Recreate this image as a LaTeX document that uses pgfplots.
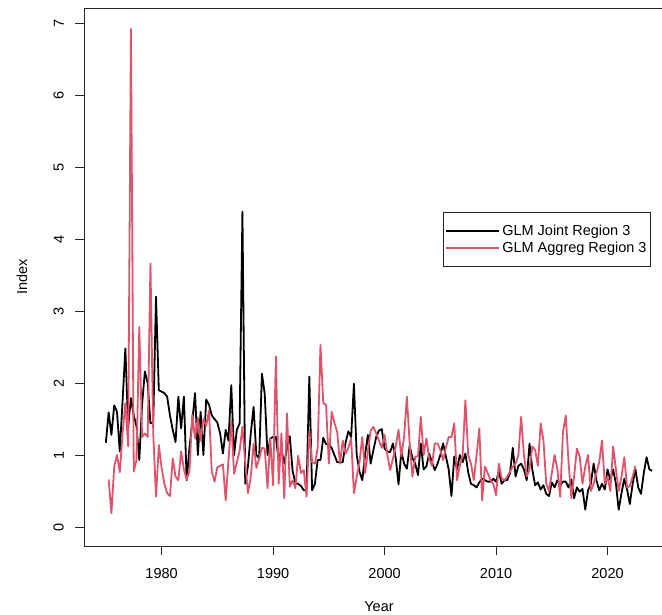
\documentclass[border=0pt]{standalone}
\usepackage{pgfplots}
\pgfplotsset{compat=1.18}
\usepackage{fontspec}
\setmainfont{Liberation Sans}
\definecolor{rred}{HTML}{DF536B}
\newcommand{\rf}{\fontsize{14.5}{17}\selectfont}
\begin{document}
\begin{tikzpicture}
\useasboundingbox (0pt,0pt) rectangle (662pt,615pt);
\begin{axis}[
  at={(84pt,69pt)}, anchor=south west,
  scale only axis, width=590pt, height=538pt,
  xmin=1973.04, xmax=2025.96, ymin=-0.264, ymax=7.21,
  xtick={1980,1990,2000,2010,2020}, ytick={0,1,2,3,4,5,6,7},
  xtick pos=bottom, ytick pos=left,
  tick align=outside, major tick length=9pt,
  axis line style={black!85, line width=0.9pt},
  every tick/.style={black!85, line width=0.9pt},
  /pgf/number format/assume math mode=true,
  /pgf/number format/1000 sep={},
  tick label style={font=\rf, inner sep=0pt},
  yticklabel style={rotate=90, anchor=south},
  xticklabel style={anchor=north},
  xticklabel shift=13pt, yticklabel shift=11pt,
  xlabel={Year}, ylabel={Index},
  label style={font=\rf, inner sep=0pt},
  xlabel style={at={(axis description cs:0.5,-0.1215)}, anchor=base},
  ylabel style={at={(axis description cs:-0.0966,0.5)}, anchor=base},
  legend style={at={(axis description cs:0.6085,0.6208)}, anchor=north west,
    draw=black!85, line width=0.9pt, inner xsep=2pt, inner ysep=10.5pt,
    row sep=1pt, font=\rf, cells={anchor=west}},
  legend image code/.code={\draw[#1] (11pt,0pt) -- (38pt,0pt); \path (0pt,0pt) -- (53pt,0pt);},
]
\addplot[black, line width=1.8pt, line join=round] coordinates {
(1975,1.17)(1975.25,1.59)(1975.5,1.28)(1975.75,1.69)
(1976,1.60)(1976.25,1.05)(1976.5,1.75)(1976.75,2.48)
(1977,1.39)(1977.25,1.79)(1977.5,1.55)(1977.75,1.40)
(1978,0.93)(1978.25,1.70)(1978.5,2.16)(1978.75,2.00)
(1979,1.44)(1979.25,1.45)(1979.5,3.20)(1979.75,1.90)
(1980,1.88)(1980.25,1.86)(1980.5,1.81)(1980.75,1.55)
(1981,1.35)(1981.25,1.18)(1981.5,1.81)(1981.75,1.37)
(1982,1.81)(1982.25,0.65)(1982.5,1.10)(1982.75,1.46)
(1983,1.86)(1983.25,1.00)(1983.5,1.60)(1983.75,1.00)
(1984,1.77)(1984.25,1.70)(1984.5,1.55)(1984.75,1.50)
(1985,1.45)(1985.25,1.30)(1985.5,1.02)(1985.75,1.35)
(1986,1.20)(1986.25,1.97)(1986.5,1.00)(1986.75,1.35)
(1987,1.44)(1987.25,4.38)(1987.5,0.60)(1987.75,0.85)
(1988,1.30)(1988.25,1.67)(1988.5,1.00)(1988.75,0.95)
(1989,2.13)(1989.25,1.85)(1989.5,1.00)(1989.75,1.23)
(1990,1.25)(1990.25,1.25)(1990.5,0.93)(1990.75,1.07)
(1991,0.88)(1991.25,1.10)(1991.5,1.26)(1991.75,0.78)
(1992,0.61)(1992.25,0.60)(1992.5,0.57)(1992.75,0.51)
(1993,0.51)(1993.25,2.09)(1993.5,0.51)(1993.75,0.60)
(1994,0.93)(1994.25,0.93)(1994.5,1.24)(1994.75,1.15)
(1995,1.15)(1995.25,1.10)(1995.5,1.00)(1995.75,0.90)
(1996,0.90)(1996.25,0.90)(1996.5,1.17)(1996.75,1.33)
(1997,1.25)(1997.25,1.99)(1997.5,1.00)(1997.75,0.77)
(1998,0.65)(1998.25,1.00)(1998.5,1.28)(1998.75,0.88)
(1999,1.07)(1999.25,1.25)(1999.5,1.34)(1999.75,1.36)
(2000,1.09)(2000.25,1.05)(2000.5,1.04)(2000.75,1.16)
(2001,0.96)(2001.25,0.59)(2001.5,1.05)(2001.75,0.88)
(2002,0.81)(2002.25,1.13)(2002.5,0.96)(2002.75,0.88)
(2003,0.72)(2003.25,1.16)(2003.5,0.80)(2003.75,0.84)
(2004,1.02)(2004.25,0.90)(2004.5,0.79)(2004.75,0.88)
(2005,1.00)(2005.25,1.16)(2005.5,0.98)(2005.75,0.80)
(2006,0.43)(2006.25,0.98)(2006.5,0.80)(2006.75,1.00)
(2007,0.90)(2007.25,1.02)(2007.5,0.76)(2007.75,0.60)
(2008,0.58)(2008.25,0.55)(2008.5,0.62)(2008.75,0.67)
(2009,0.65)(2009.25,0.63)(2009.5,0.63)(2009.75,0.67)
(2010,0.63)(2010.25,0.77)(2010.5,0.60)(2010.75,0.65)
(2011,0.65)(2011.25,0.75)(2011.5,1.10)(2011.75,0.70)
(2012,0.85)(2012.25,0.88)(2012.5,0.80)(2012.75,0.65)
(2013,1.16)(2013.25,0.80)(2013.5,0.58)(2013.75,0.62)
(2014,0.52)(2014.25,0.58)(2014.5,0.46)(2014.75,0.43)
(2015,0.62)(2015.25,0.55)(2015.5,0.65)(2015.75,0.58)
(2016,0.63)(2016.25,0.63)(2016.5,0.55)(2016.75,0.66)
(2017,0.40)(2017.25,0.55)(2017.5,0.49)(2017.75,0.53)
(2018,0.24)(2018.25,0.51)(2018.5,0.60)(2018.75,0.88)
(2019,0.65)(2019.25,0.51)(2019.5,0.60)(2019.75,0.52)
(2020,0.80)(2020.25,0.65)(2020.5,0.80)(2020.75,0.60)
(2021,0.24)(2021.25,0.47)(2021.5,0.67)(2021.75,0.52)
(2022,0.32)(2022.25,0.60)(2022.5,0.80)(2022.75,0.55)
(2023,0.46)(2023.25,0.75)(2023.5,0.97)(2023.75,0.80)
(2024,0.78)
};
\addlegendentry{GLM Joint Region 3}
\addplot[rred, line width=1.8pt, line join=round] coordinates {
(1975.25,0.66)(1975.5,0.19)(1975.75,0.84)
(1976,1.00)(1976.25,0.76)(1976.5,1.30)(1976.75,1.72)
(1977,1.12)(1977.25,6.92)(1977.5,0.77)(1977.75,0.93)
(1978,2.78)(1978.25,1.25)(1978.5,1.30)(1978.75,1.25)
(1979,3.66)(1979.25,1.30)(1979.5,0.42)(1979.75,1.14)
(1980,0.82)(1980.25,0.60)(1980.5,0.47)(1980.75,0.43)
(1981,0.95)(1981.25,0.70)(1981.5,0.65)(1981.75,1.05)
(1982,0.80)(1982.25,0.66)(1982.5,0.78)(1982.75,1.56)
(1983,1.23)(1983.25,1.52)(1983.5,1.20)(1983.75,1.50)
(1984,1.40)(1984.25,1.62)(1984.5,0.77)(1984.75,0.63)
(1985,0.83)(1985.25,0.85)(1985.5,0.87)(1985.75,0.37)
(1986,0.93)(1986.25,1.48)(1986.5,0.74)(1986.75,0.90)
(1987,1.06)(1987.25,1.39)(1987.5,0.90)(1987.75,0.47)
(1988,0.70)(1988.25,1.16)(1988.5,0.82)(1988.75,0.95)
(1989,1.10)(1989.25,1.09)(1989.5,0.54)(1989.75,1.23)
(1990,0.58)(1990.25,2.37)(1990.5,0.60)(1990.75,1.30)
(1991,0.40)(1991.25,1.58)(1991.5,0.56)(1991.75,0.65)
(1992,0.54)(1992.25,0.99)(1992.5,0.75)(1992.75,0.79)
(1993,0.42)(1993.25,1.33)(1993.5,0.90)(1993.75,0.88)
(1994,1.10)(1994.25,2.53)(1994.5,1.72)(1994.75,1.70)
(1995,0.88)(1995.25,1.60)(1995.5,1.45)(1995.75,1.32)
(1996,0.88)(1996.25,1.20)(1996.5,1.02)(1996.75,1.10)
(1997,1.23)(1997.25,0.47)(1997.5,0.70)(1997.75,0.90)
(1998,1.25)(1998.25,0.75)(1998.5,1.05)(1998.75,1.34)
(1999,1.39)(1999.25,1.30)(1999.5,1.20)(1999.75,1.10)
(2000,1.28)(2000.25,1.00)(2000.5,0.79)(2000.75,0.95)
(2001,1.12)(2001.25,1.35)(2001.5,0.98)(2001.75,1.25)
(2002,1.81)(2002.25,1.16)(2002.5,0.70)(2002.75,0.98)
(2003,0.98)(2003.25,1.53)(2003.5,1.00)(2003.75,1.23)
(2004,0.95)(2004.25,0.85)(2004.5,1.16)(2004.75,1.16)
(2005,1.07)(2005.25,0.93)(2005.5,1.10)(2005.75,1.25)
(2006,1.25)(2006.25,1.44)(2006.5,0.65)(2006.75,0.85)
(2007,1.00)(2007.25,1.76)(2007.5,1.00)(2007.75,0.88)
(2008,0.65)(2008.25,1.00)(2008.5,1.37)(2008.75,0.37)
(2009,0.84)(2009.25,0.75)(2009.5,0.65)(2009.75,0.60)
(2010,0.44)(2010.25,0.88)(2010.5,0.68)(2010.75,0.65)
(2011,0.70)(2011.25,0.77)(2011.5,0.84)(2011.75,0.88)
(2012,1.00)(2012.25,1.53)(2012.5,1.00)(2012.75,0.70)
(2013,0.80)(2013.25,1.12)(2013.5,1.07)(2013.75,0.85)
(2014,1.44)(2014.25,1.20)(2014.5,0.60)(2014.75,0.50)
(2015,0.75)(2015.25,1.00)(2015.5,0.80)(2015.75,0.42)
(2016,1.32)(2016.25,1.55)(2016.5,0.90)(2016.75,0.40)
(2017,0.70)(2017.25,1.09)(2017.5,0.98)(2017.75,0.60)
(2018,0.84)(2018.25,1.00)(2018.5,0.50)(2018.75,0.60)
(2019,0.75)(2019.25,0.90)(2019.5,1.20)(2019.75,0.60)
(2020,0.70)(2020.25,0.50)(2020.5,1.12)(2020.75,0.80)
(2021,0.50)(2021.25,0.70)(2021.5,0.97)(2021.75,0.55)
(2022,0.57)(2022.25,0.70)(2022.5,0.85)
};
\addlegendentry{GLM Aggreg Region 3}
\end{axis}
\end{tikzpicture}
\end{document}
